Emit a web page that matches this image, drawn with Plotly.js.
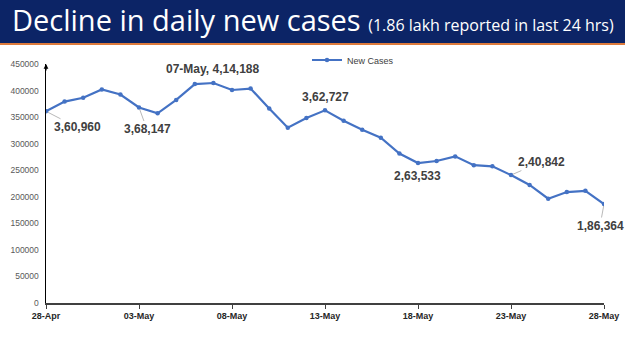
<!DOCTYPE html>
<html><head><meta charset="utf-8">
<script src="https://cdn.plot.ly/plotly-3.0.1.min.js"></script>
<style>html,body{margin:0;padding:0;background:#fff}#chart{width:625px;height:351px}</style>
</head><body><div id="chart"></div>
<script>
const dates = ["28-Apr","29-Apr","30-Apr","01-May","02-May","03-May","04-May","05-May","06-May","07-May","08-May","09-May","10-May","11-May","12-May","13-May","14-May","15-May","16-May","17-May","18-May","19-May","20-May","21-May","22-May","23-May","24-May","25-May","26-May","27-May","28-May"];
const newCases = [360960,379257,386452,401993,392488,368147,357229,382315,412262,414188,401078,403738,366161,329942,348421,362727,343144,326098,311170,281386,263533,267334,276070,259551,257299,240842,222315,196427,208921,211298,186364];
const tickLabels = ["28-Apr","03-May","08-May","13-May","18-May","23-May","28-May"];
const labelled = [
  {date:"28-Apr", text:"3,60,960", ax:31, ay:16, lead:true},
  {date:"03-May", text:"3,68,147", ax:8, ay:22, lead:true},
  {date:"07-May", text:"07-May, 4,14,188", ax:0, ay:-14, lead:false},
  {date:"13-May", text:"3,62,727", ax:0, ay:-13, lead:false},
  {date:"18-May", text:"2,63,533", ax:-1, ay:13, lead:false},
  {date:"23-May", text:"2,40,842", ax:30, ay:-13, lead:true},
  {date:"28-May", text:"1,86,364", ax:-4, ay:22, lead:true}
];

const W=625,H=351,ml=46,mr=21,mt=64,mb=48;
const plotH=H-mt-mb, plotW=W-ml-mr;
const py=p=>(H-mb-p)/plotH;
const px=p=>(p-ml)/plotW;

const anns = labelled.map(l=>({
  x:l.date, y:newCases[dates.indexOf(l.date)], xref:'x', yref:'y',
  text:l.text, showarrow:true, ax:l.ax, ay:l.ay, arrowhead:0,
  arrowwidth: l.lead?0.8:0.1, arrowcolor: l.lead?'#a6a6a6':'rgba(0,0,0,0)',
  standoff:2,
  font:{family:'Liberation Sans, Arial, sans-serif', size:12, color:'#404040', weight:'bold'}
}));
anns.push({x:dates[0], y:450000, xref:'x', yref:'y', text:'', showarrow:true, ax:0, ay:8,
  arrowhead:2, arrowsize:0.8, arrowwidth:1.2, arrowcolor:'#000', standoff:0});

const data=[{
  x:dates, y:newCases, type:'scatter', mode:'lines+markers', name:'New Cases',
  line:{color:'#4472C4', width:2.2}, marker:{color:'#4472C4', size:4.5}
}];

const layout={
  width:W, height:H, margin:{l:ml,r:mr,t:mt,b:mb},
  paper_bgcolor:'#fff', plot_bgcolor:'#fff',
  title:{text:"Decline in daily new cases <span style='font-size:16px'>(1.86 lakh reported in last 24 hrs)</span>",
    x:12/W, xref:'container', xanchor:'left', y:1-21/H, yref:'container', yanchor:'middle',
    font:{family:'Open Sans, sans-serif', size:29, color:'#ffffff'}},
  showlegend:true,
  legend:{orientation:'h', x:px(307), y:py(60), xanchor:'left', yanchor:'middle', itemwidth:30,
    font:{family:'Liberation Sans, Arial, sans-serif', size:9, color:'#404040'}, bgcolor:'rgba(0,0,0,0)'},
  xaxis:{type:'category', range:[0,dates.length-1], tickmode:'array', tickvals:tickLabels, ticktext:tickLabels,
    showgrid:false, zeroline:false, showline:true, linecolor:'#404040', linewidth:1.5,
    ticks:'outside', ticklen:4, tickcolor:'#404040', tickwidth:1,
    tickfont:{family:'Liberation Sans, Arial, sans-serif', size:9, color:'#262626', weight:'bold'}},
  yaxis:{range:[0,450000], tickmode:'linear', tick0:0, dtick:50000, tickformat:'d',
    showgrid:false, zeroline:false, showline:true, linecolor:'#000', linewidth:1.5,
    ticks:'outside', ticklen:4, tickcolor:'#fff',
    tickfont:{family:'Liberation Sans, Arial, sans-serif', size:8.5, color:'#595959'}},
  shapes:[
    {type:'rect', xref:'paper', yref:'paper', x0:px(0), x1:px(W), y0:py(43), y1:py(0), fillcolor:'#0c2466', line:{width:0}, layer:'below'},
    {type:'rect', xref:'paper', yref:'paper', x0:px(0), x1:px(W), y0:py(45), y1:py(43), fillcolor:'#de7b3c', line:{width:0}, layer:'below'}
  ],
  annotations:anns
};
Plotly.newPlot('chart', data, layout, {displayModeBar:false, staticPlot:true});
</script></body></html>
